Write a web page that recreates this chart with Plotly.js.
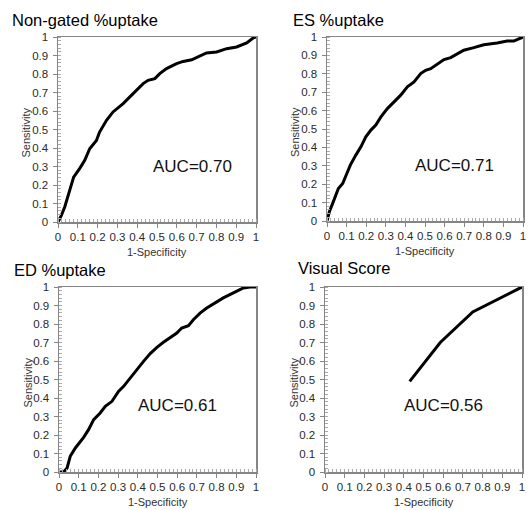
<!DOCTYPE html>
<html><head><meta charset="utf-8">
<script src="https://cdn.plot.ly/plotly-3.0.1.min.js"></script>
<style>html,body{margin:0;padding:0;background:#fff;}#chart{width:528px;height:510px;}</style>
</head><body><div id="chart"></div>
<script>
const panelTitles = ["Non-gated %uptake", "ES %uptake", "ED %uptake", "Visual Score"];
const aucLabels = ["AUC=0.70", "AUC=0.71", "AUC=0.61", "AUC=0.56"];

const nongatedX = [0,0.017,0.034,0.05,0.067,0.079,0.11,0.135,0.16,0.194,0.21,0.245,0.278,0.329,0.363,0.396,0.43,0.455,0.489,0.514,0.548,0.599,0.632,0.675,0.717,0.75,0.801,0.852,0.902,0.953,0.987,1];
const nongatedY = [0,0.036,0.081,0.135,0.198,0.243,0.29,0.333,0.396,0.441,0.486,0.55,0.595,0.64,0.676,0.712,0.748,0.766,0.775,0.802,0.829,0.856,0.868,0.877,0.9,0.914,0.919,0.937,0.946,0.968,0.996,1];

const esX = [0,0.012,0.029,0.046,0.058,0.08,0.097,0.119,0.147,0.173,0.198,0.224,0.249,0.275,0.308,0.342,0.376,0.41,0.444,0.478,0.503,0.529,0.563,0.597,0.631,0.664,0.698,0.749,0.8,0.868,0.919,0.953,0.978,1];
const esY = [0,0.05,0.096,0.15,0.177,0.204,0.25,0.304,0.358,0.403,0.457,0.494,0.521,0.566,0.611,0.647,0.684,0.729,0.756,0.801,0.819,0.828,0.855,0.877,0.888,0.91,0.928,0.942,0.958,0.967,0.978,0.978,0.991,1];

const edX = [0,0.024,0.041,0.057,0.083,0.1,0.125,0.15,0.176,0.209,0.235,0.269,0.302,0.328,0.361,0.395,0.429,0.463,0.497,0.53,0.564,0.598,0.623,0.657,0.682,0.716,0.75,0.792,0.834,0.885,0.936,0.97,1];
const edY = [0,0,0.022,0.085,0.13,0.151,0.187,0.229,0.283,0.319,0.355,0.382,0.436,0.463,0.508,0.553,0.598,0.64,0.674,0.701,0.728,0.751,0.778,0.791,0.823,0.859,0.886,0.914,0.941,0.968,0.995,1,1];

const visualX = [0.43,0.585,0.75,1];
const visualY = [0.49,0.70,0.865,1];

const tickVals = [0,0.1,0.2,0.3,0.4,0.5,0.6,0.7,0.8,0.9,1];
const tickText = ["0","0.1","0.2","0.3","0.4","0.5","0.6","0.7","0.8","0.9","1"];

const W = 528, H = 510;
// plot boxes in pixels: [left, right, top, bottom]
const boxes = [[58,256,37,222],[327,523,37,221],[59,256,287,472],[325,522,287,472]];
const series = [[nongatedX,nongatedY],[esX,esY],[edX,edY],[visualX,visualY]];
const aucPos = [[0.68,0.30],[0.65,0.30],[0.60,0.36],[0.60,0.36]];
const titlePos = [[10,20],[291,20],[12,270],[296,268]];

const FONT = "Liberation Sans, Arial, sans-serif";
const traces = [], annotations = [];
const layout = {
  width: W, height: H, margin: {l:0,r:0,t:0,b:0},
  paper_bgcolor: "#fff", plot_bgcolor: "#fff", showlegend: false,
  font: {family: FONT, color: "#333"}
};

function axisCommon(){
  return {
    range: [0,1], tickmode: "array", tickvals: tickVals, ticktext: tickText,
    showgrid: false, zeroline: false,
    showline: true, mirror: true, linecolor: "#858585", linewidth: 1.5,
    ticks: "outside", ticklen: 4, tickcolor: "#858585", tickwidth: 1,
    tickfont: {family: FONT, size: 11.5, color: "#2a2a2a"},
    minor: {tickmode: "linear", tick0: 0, dtick: 0.02, ticks: "inside", ticklen: 3, tickcolor: "#aaa", tickwidth: 1, showgrid: false},
    fixedrange: true
  };
}

boxes.forEach((b,i)=>{
  const n = i+1;
  const xa = n===1 ? "xaxis" : "xaxis"+n;
  const ya = n===1 ? "yaxis" : "yaxis"+n;
  const xr = n===1 ? "x" : "x"+n;
  const yr = n===1 ? "y" : "y"+n;
  layout[xa] = Object.assign(axisCommon(), {domain: [b[0]/W, b[1]/W], anchor: yr, ticklabelstandoff: 0});
  layout[ya] = Object.assign(axisCommon(), {domain: [1-b[3]/H, 1-b[2]/H], anchor: xr, ticklabelstandoff: 2});
  traces.push({x: series[i][0], y: series[i][1], xaxis: xr, yaxis: yr, type: "scatter", mode: "lines",
    line: {color: "#000", width: 3}, cliponaxis: false, hoverinfo: "skip"});
  annotations.push({xref: xr, yref: yr, x: aucPos[i][0], y: aucPos[i][1], text: aucLabels[i], showarrow: false,
    font: {family: FONT, size: 17, color: "#111"}, xanchor: "center", yanchor: "middle"});
  annotations.push({xref: "paper", yref: "paper", x: titlePos[i][0]/W, y: 1-titlePos[i][1]/H, text: panelTitles[i],
    showarrow: false, xanchor: "left", yanchor: "middle", font: {family: FONT, size: 16.5, color: "#000"}});
  annotations.push({xref: "paper", yref: "paper", x: (b[0]+b[1])/2/W, y: 1-(b[3]+23)/H, text: "1-Specificity",
    showarrow: false, xanchor: "center", yanchor: "top", yshift: 0, borderpad: 0, font: {family: FONT, size: 11, color: "#333"}});
  annotations.push({xref: "paper", yref: "paper", x: (b[0]-32)/W, y: 1-((b[2]+b[3])/2 + 3)/H, text: "Sensitivity",
    showarrow: false, textangle: -90, xanchor: "center", yanchor: "middle", font: {family: FONT, size: 11, color: "#333"}});
});
layout.annotations = annotations;

Plotly.newPlot("chart", traces, layout, {displayModeBar: false, staticPlot: true});
</script>
</body></html>
